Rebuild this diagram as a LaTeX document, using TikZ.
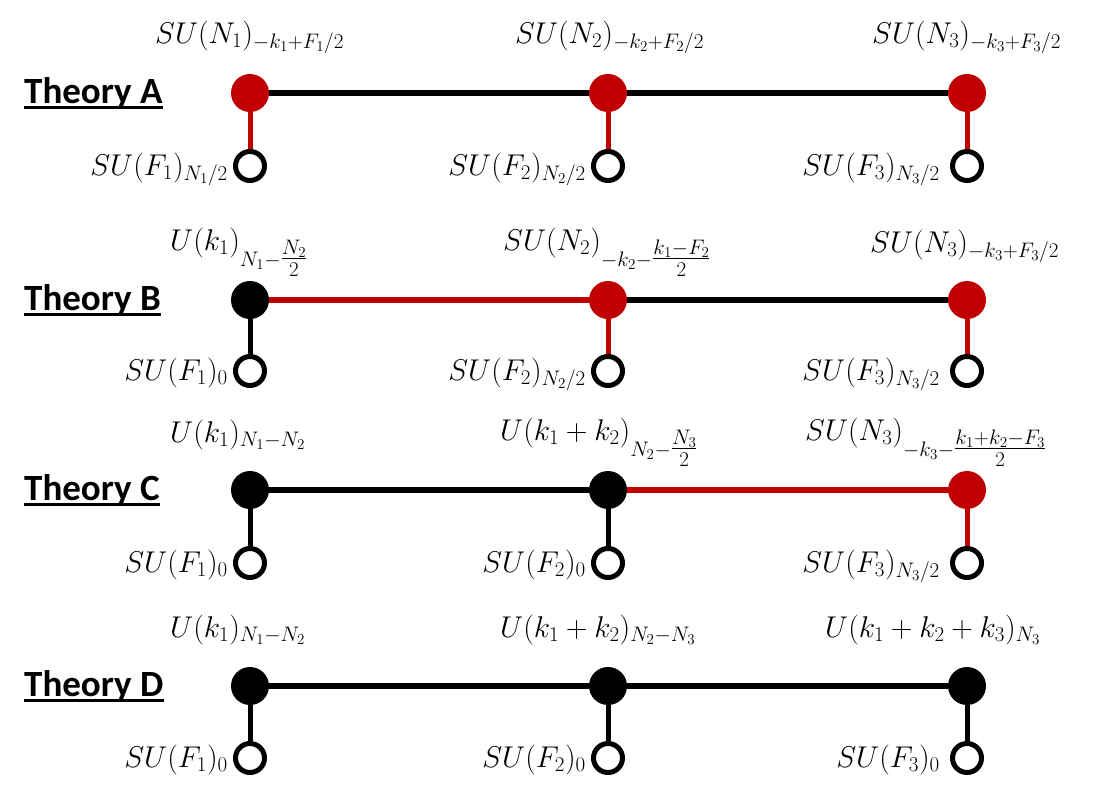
\RequirePackage{fix-cm}
\documentclass[tikz,border=0pt]{standalone}
\usepackage{amsmath}
\usepackage{fontspec}
\newfontfamily\thfont{Carlito}
\definecolor{dred}{RGB}{192,0,0}
\begin{document}
\begin{tikzpicture}[x=1pt,y=-1pt,
  gauge/.style={circle,inner sep=0pt,minimum size=38pt,fill=#1},
  flav/.style={circle,inner sep=0pt,minimum size=29pt,draw=black,line width=5pt,fill=white},
  hline/.style={line width=6pt,draw=#1},
  vline/.style={line width=5pt,draw=#1},
  toplab/.style={anchor=base west,inner sep=0pt,font=\fontsize{30}{36}\selectfont},
  botlab/.style={anchor=base east,inner sep=0pt,font=\fontsize{30}{36}\selectfont},
  thlab/.style={anchor=west,inner sep=0pt,font=\fontsize{37}{44}\selectfont\thfont\bfseries}]
\useasboundingbox (0,0) rectangle (1103,798);
% ---------- Theory A
\node[gauge=dred] (a1) at (250,93) {};
\node[gauge=dred] (a2) at (608,93) {};
\node[gauge=dred] (a3) at (967,93) {};
\node[flav] (fa1) at (250,166) {};
\node[flav] (fa2) at (608,166) {};
\node[flav] (fa3) at (967,166) {};
\draw[hline=black] (a1) -- (a2);
\draw[hline=black] (a2) -- (a3);
\draw[vline=dred] (a1) -- (fa1);
\draw[vline=dred] (a2) -- (fa2);
\draw[vline=dred] (a3) -- (fa3);
\node[thlab] (tA) at (24,93) {Theory A};
\draw[line width=3pt] ([yshift=2pt]tA.south west) -- ([yshift=2pt]tA.south east);
\node[toplab] (la1) at (155,43) {$SU(N_1)_{-k_1+F_1/2}$};
\node[toplab] (la2) at (515,43) {$SU(N_2)_{-k_2+F_2/2}$};
\node[toplab] (la3) at (872,43) {$SU(N_3)_{-k_3+F_3/2}$};
\node[botlab] (ba1) at (228,175) {$SU(F_1)_{N_1/2}$};
\node[botlab] (ba2) at (586,175) {$SU(F_2)_{N_2/2}$};
\node[botlab] (ba3) at (940,175) {$SU(F_3)_{N_3/2}$};
% ---------- Theory B
\node[gauge=black] (b1) at (250,300) {};
\node[gauge=dred] (b2) at (608,300) {};
\node[gauge=dred] (b3) at (967,300) {};
\node[flav] (fb1) at (250,371) {};
\node[flav] (fb2) at (608,371) {};
\node[flav] (fb3) at (967,371) {};
\draw[hline=dred] (b1) -- (b2);
\draw[hline=black] (b2) -- (b3);
\draw[vline=black] (b1) -- (fb1);
\draw[vline=dred] (b2) -- (fb2);
\draw[vline=dred] (b3) -- (fb3);
\node[thlab] (tB) at (24,300) {Theory B};
\draw[line width=3pt] ([yshift=2pt]tB.south west) -- ([yshift=2pt]tB.south east);
\node[toplab] (lb1) at (170,250) {$U(k_1)_{N_1-\tfrac{N_2}{2}}$};
\node[toplab] (lb2) at (503,250) {$SU(N_2)_{-k_2-\tfrac{k_1-F_2}{2}}$};
\node[toplab] (lb3) at (870,252) {$SU(N_3)_{-k_3+F_3/2}$};
\node[botlab] (bb1) at (228,380) {$SU(F_1)_0$};
\node[botlab] (bb2) at (586,380) {$SU(F_2)_{N_2/2}$};
\node[botlab] (bb3) at (940,380) {$SU(F_3)_{N_3/2}$};
% ---------- Theory C
\node[gauge=black] (c1) at (250,490) {};
\node[gauge=black] (c2) at (608,490) {};
\node[gauge=dred] (c3) at (967,490) {};
\node[flav] (fc1) at (250,563) {};
\node[flav] (fc2) at (608,563) {};
\node[flav] (fc3) at (967,563) {};
\draw[hline=black] (c1) -- (c2);
\draw[hline=dred] (c2) -- (c3);
\draw[vline=black] (c1) -- (fc1);
\draw[vline=black] (c2) -- (fc2);
\draw[vline=dred] (c3) -- (fc3);
\node[thlab] (tC) at (24,490) {Theory C};
\draw[line width=3pt] ([yshift=2pt]tC.south west) -- ([yshift=2pt]tC.south east);
\node[toplab] (lc1) at (170,442) {$U(k_1)_{N_1-N_2}$};
\node[toplab] (lc2) at (500,440) {$U(k_1+k_2)_{N_2-\tfrac{N_3}{2}}$};
\node[toplab] (lc3) at (805,440) {$SU(N_3)_{-k_3-\tfrac{k_1+k_2-F_3}{2}}$};
\node[botlab] (bc1) at (228,572) {$SU(F_1)_0$};
\node[botlab] (bc2) at (586,572) {$SU(F_2)_0$};
\node[botlab] (bc3) at (940,572) {$SU(F_3)_{N_3/2}$};
% ---------- Theory D
\node[gauge=black] (d1) at (250,686) {};
\node[gauge=black] (d2) at (608,686) {};
\node[gauge=black] (d3) at (967,686) {};
\node[flav] (fd1) at (250,758) {};
\node[flav] (fd2) at (608,758) {};
\node[flav] (fd3) at (967,758) {};
\draw[hline=black] (d1) -- (d2);
\draw[hline=black] (d2) -- (d3);
\draw[vline=black] (d1) -- (fd1);
\draw[vline=black] (d2) -- (fd2);
\draw[vline=black] (d3) -- (fd3);
\node[thlab] (tD) at (24,686) {Theory D};
\draw[line width=3pt] ([yshift=2pt]tD.south west) -- ([yshift=2pt]tD.south east);
\node[toplab] (ld1) at (170,637) {$U(k_1)_{N_1-N_2}$};
\node[toplab] (ld2) at (500,637) {$U(k_1+k_2)_{N_2-N_3}$};
\node[toplab] (ld3) at (825,637) {$U(k_1+k_2+k_3)_{N_3}$};
\node[botlab] (bd1) at (228,767) {$SU(F_1)_0$};
\node[botlab] (bd2) at (586,767) {$SU(F_2)_0$};
\node[botlab] (bd3) at (940,767) {$SU(F_3)_0$};
\end{tikzpicture}
\end{document}
